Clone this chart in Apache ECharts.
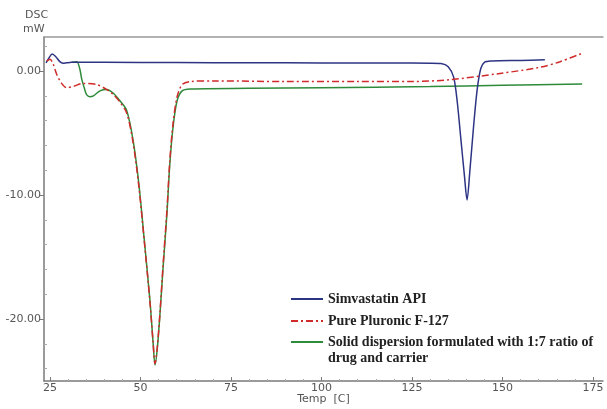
<!DOCTYPE html>
<html><head><meta charset="utf-8">
<script src="https://cdn.jsdelivr.net/npm/echarts@6/dist/echarts.min.js"></script>
<style>html,body{margin:0;padding:0;background:#fff}#c{width:607px;height:409px}</style>
</head><body><div id="c"></div>
<script>
// Temperature (°C) and heat flow (mW)
const simvastatinT = [23.9,24.8,25.6,26.6,27.7,28.6,29.6,31,40,60,80,100,120,130,133,135,136.5,137.5,138.5,139.5,140.2,141,142,143,144,145,147,155,161.7];
const simvastatinV = [0.65,1.1,1.37,1.15,0.75,0.62,0.66,0.7,0.7,0.68,0.66,0.65,0.64,0.63,0.6,0.35,-0.5,-2.5,-5.5,-8.5,-10.4,-8,-4.5,-1.5,0.2,0.7,0.8,0.85,0.9];

const pluronicT = [24.1,25,25.8,26.9,28.2,29.6,31.4,34.1,37.9,40.7,42.5,44.3,46.2,47.9,49.5,51,52.6,53.5,54,54.6,55.4,56.2,57.3,58.1,59,60.1,61.5,63.7,70,90,110,125,135.5,149.3,160.4,165.9,172.2];
const pluronicV = [0.8,0.95,0.6,-0.3,-1.0,-1.35,-1.25,-1.0,-1.1,-1.5,-1.9,-2.5,-3.4,-5.7,-9.2,-13.6,-18.6,-22,-23.6,-22.4,-19.4,-15.8,-11.2,-7.2,-4.2,-2.1,-1.1,-0.85,-0.8,-0.85,-0.85,-0.85,-0.7,-0.2,0.3,0.75,1.45];

const dispersionT = [31,32.4,33.2,33.8,34.5,35.1,36,37,38.8,40.7,42.5,44.3,46.2,47.9,49.5,51,52.6,53.5,54,54.6,55.4,56.2,57.3,58.1,59,60.1,61.5,63.7,80,100,130,150,172];
const dispersionV = [0.7,0.75,0.2,-0.7,-1.4,-1.9,-2.07,-2.0,-1.6,-1.5,-1.8,-2.4,-3.2,-5.5,-9,-13.5,-18.5,-22,-23.7,-22.5,-19.5,-16,-11.5,-7.5,-4.5,-2.4,-1.6,-1.45,-1.4,-1.35,-1.25,-1.15,-1.05];

const xTicks = [25,50,75,100,125,150,175];
const xMinorTicks = [30,35,40,45,55,60,65,70,80,85,90,95,105,110,115,120,130,135,140,145,155,160,165,170];
const yTicks = [0,-10,-20];
const yMinorTicks = [2,-2,-4,-6,-8,-12,-14,-16,-18,-22,-24];

const seriesNames = ['Simvastatin API','Pure Pluronic F-127','Solid dispersion formulated with 1:7 ratio of\ndrug and carrier'];

const zip = (a,b) => a.map((t,i)=>[t,b[i]]);
const X_MIN = 23.34, X_MAX = 177.76, Y_MIN = -25, Y_MAX = 2.74;
const axisCol = '#7a7a7a';
const lblFont = {color:'#555', fontSize:11, fontFamily:'DejaVu Sans, sans-serif'};
const legFont = {fontFamily:'Liberation Serif, serif', fontWeight:'bold', fontSize:14, color:'#222', lineHeight:16};

const chart = echarts.init(document.getElementById('c'), null, {renderer:'canvas'});
chart.setOption({
  animation:false,
  backgroundColor:'#fff',
  grid:{left:44, top:37, right:4, bottom:28, containLabel:false, outerBoundsMode:'none'},
  legend:[
    {orient:'vertical', left:285, top:286, itemGap:6, itemWidth:32, itemHeight:10,
     itemStyle:{opacity:0}, textStyle:legFont,
     data:[seriesNames[0], seriesNames[1]]},
    {orient:'vertical', left:285, top:313, itemGap:6, itemWidth:32, itemHeight:10,
     itemStyle:{opacity:0},
     textStyle:{...legFont, rich:{pad:{...legFont}, t:{...legFont}}},
     formatter: name => '{pad| }\n' + name.split('\n').map(s => '{t|' + s + '}').join('\n'),
     data:[seriesNames[2]]}
  ],
  xAxis:[
    {type:'value', min:X_MIN, max:X_MAX, position:'bottom',
     axisLine:{show:true, onZero:false, lineStyle:{color:axisCol, width:1.5}},
     axisTick:{show:true, customValues:xTicks, length:4, inside:true, lineStyle:{color:axisCol}},
     axisLabel:{customValues:xTicks, ...lblFont, margin:2},
     splitLine:{show:false},
     name:'Temp  [C]', nameLocation:'middle', nameGap:13, nameMoveOverlap:false, nameTextStyle:{...lblFont}},
    {type:'value', min:X_MIN, max:X_MAX, position:'bottom',
     axisLine:{show:false, onZero:false}, axisLabel:{show:false}, splitLine:{show:false},
     axisTick:{show:true, customValues:xMinorTicks, length:2, inside:true, lineStyle:{color:'#aaa'}}},
    {type:'value', min:X_MIN, max:X_MAX, position:'top',
     axisLine:{show:true, onZero:false, lineStyle:{color:'#999', width:1.5}}, axisLabel:{show:false}, axisTick:{show:false}, splitLine:{show:false}}
  ],
  yAxis:[
    {type:'value', min:Y_MIN, max:Y_MAX, position:'left',
     axisLine:{show:true, onZero:false, lineStyle:{color:axisCol, width:1.5}},
     axisTick:{show:true, customValues:yTicks, length:4, lineStyle:{color:axisCol}},
     axisLabel:{customValues:yTicks, ...lblFont, margin:3, formatter:v=>v.toFixed(2)},
     splitLine:{show:false}},
    {type:'value', min:Y_MIN, max:Y_MAX, position:'left',
     axisLine:{show:false, onZero:false}, axisLabel:{show:false}, splitLine:{show:false},
     axisTick:{show:true, customValues:yMinorTicks, length:3, inside:true, lineStyle:{color:'#aaa'}}}
  ],
  graphic:[
    {type:'text', left:25, top:10, style:{text:'DSC', fill:'#555', font:'11px DejaVu Sans, sans-serif'}},
    {type:'text', left:23, top:24, style:{text:'mW', fill:'#555', font:'11px DejaVu Sans, sans-serif'}}
  ],
  series:[
    {name:seriesNames[0], type:'line', data:zip(simvastatinT,simvastatinV), smooth:0.3, symbol:'none',
     lineStyle:{color:'#2d3483', width:1.5}, itemStyle:{color:'#2d3483'}, z:3},
    {name:seriesNames[1], type:'line', data:zip(pluronicT,pluronicV), smooth:0.3, symbol:'none',
     lineStyle:{color:'#d02a2a', width:1.5, type:[7,3,2,3]}, itemStyle:{color:'#d02a2a'}, z:4},
    {name:seriesNames[2], type:'line', data:zip(dispersionT,dispersionV), smooth:0.3, symbol:'none',
     lineStyle:{color:'#2e8b3a', width:1.5}, itemStyle:{color:'#2e8b3a'}, z:2}
  ]
});
</script></body></html>
